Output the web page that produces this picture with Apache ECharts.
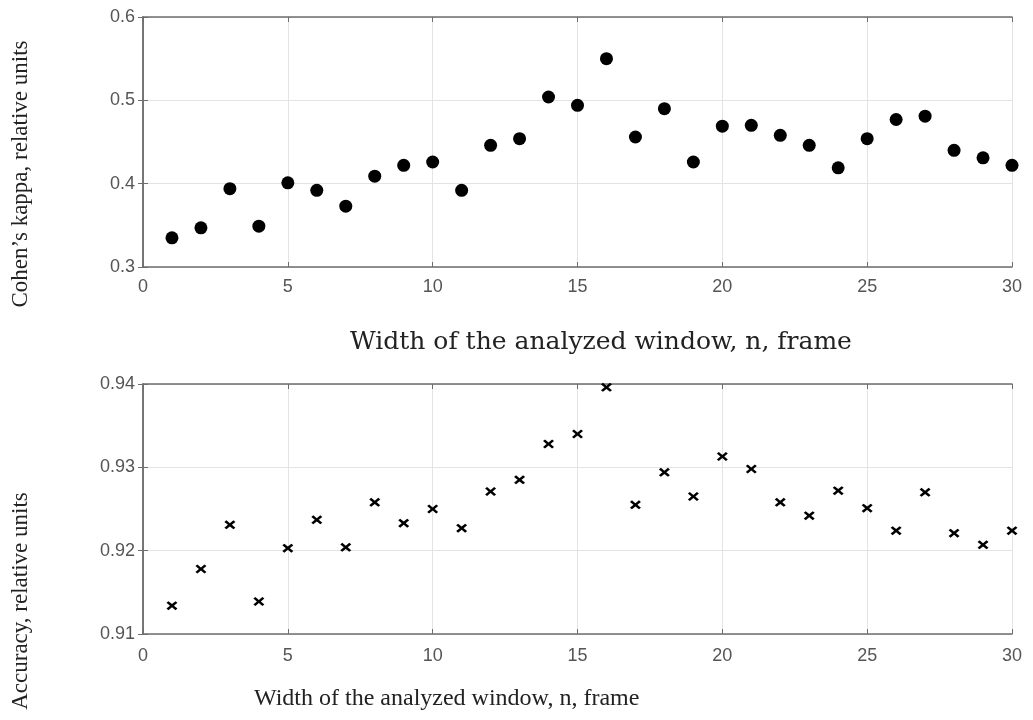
<!DOCTYPE html>
<html>
<head>
<meta charset="utf-8">
<script src="https://cdn.jsdelivr.net/npm/echarts@6/dist/echarts.min.js"></script>
<style>html,body{margin:0;padding:0;background:#fff;}#main{width:1033px;height:720px;}</style>
</head>
<body>
<div id="main"></div>
<script>
// Window width n (frames)
const windowWidth = [1,2,3,4,5,6,7,8,9,10,11,12,13,14,15,16,17,18,19,20,21,22,23,24,25,26,27,28,29,30];
// Cohen's kappa values
const kappa = [0.335,0.347,0.394,0.349,0.401,0.392,0.373,0.409,0.422,0.426,0.392,0.446,0.454,0.504,0.494,0.550,0.456,0.490,0.426,0.469,0.470,0.458,0.446,0.419,0.454,0.477,0.481,0.440,0.431,0.422];
// Accuracy values
const accuracy = [0.9134,0.9178,0.9231,0.9139,0.9203,0.9237,0.9204,0.9258,0.9233,0.9250,0.9227,0.9271,0.9285,0.9328,0.9340,0.9396,0.9255,0.9294,0.9265,0.9313,0.9298,0.9258,0.9242,0.9272,0.9251,0.9224,0.9270,0.9221,0.9207,0.9224];
// Labels
const xTitle = 'Width of the analyzed window, n, frame';
const kappaTitle = 'Cohen\u2019s kappa, relative units';
const accTitle = 'Accuracy, relative units';

const chart = echarts.init(document.getElementById('main'), null, {renderer: 'canvas'});
const axisGray = '#6e6e6e';
const labelStyle = {color: '#555', fontFamily: 'Liberation Sans, Arial, sans-serif', fontSize: 18};

function xAxisPair(gi) {
  return [
    {type: 'value', gridIndex: gi, min: 0, max: 30, interval: 5, position: 'bottom',
     axisLine: {show: true, lineStyle: {color: axisGray, width: 1.5}},
     axisTick: {show: true, inside: true, length: 5, lineStyle: {color: axisGray}},
     axisLabel: Object.assign({margin: gi === 0 ? 11 : 13}, labelStyle),
     splitLine: {show: true, lineStyle: {color: '#e3e3e3', width: 1}}},
    {type: 'value', gridIndex: gi, min: 0, max: 30, interval: 5, position: 'top',
     axisLine: {show: true, lineStyle: {color: axisGray, width: 1.5}},
     axisTick: {show: true, inside: true, length: 5, lineStyle: {color: axisGray}},
     axisLabel: {show: false}, splitLine: {show: false}}
  ];
}
function yAxisPair(gi, min, max, interval, digits) {
  return [
    {type: 'value', gridIndex: gi, min: min, max: max, interval: interval, position: 'left',
     axisLine: {show: true, lineStyle: {color: axisGray, width: 1.5}},
     axisTick: {show: true, inside: true, length: 5, lineStyle: {color: axisGray}},
     axisLabel: Object.assign({margin: 8, formatter: v => v.toFixed(digits)}, labelStyle),
     splitLine: {show: true, lineStyle: {color: '#e3e3e3', width: 1}}},
    {type: 'value', gridIndex: gi, min: min, max: max, interval: interval, position: 'right',
     axisLine: {show: true, lineStyle: {color: axisGray, width: 1.5}},
     axisTick: {show: true, inside: true, length: 5, lineStyle: {color: axisGray}},
     axisLabel: {show: false}, splitLine: {show: false}}
  ];
}

const crossPath = 'path://M0,1.8L1.8,0L5,3.2L8.2,0L10,1.8L6.8,5L10,8.2L8.2,10L5,6.8L1.8,10L0,8.2L3.2,5Z';

chart.setOption({
  animation: false,
  backgroundColor: '#fff',
  grid: [
    {left: 143, right: 21, top: 17, height: 250},
    {left: 143, right: 21, top: 384, height: 250}
  ],
  xAxis: [].concat(xAxisPair(0), xAxisPair(1)),
  yAxis: [].concat(yAxisPair(0, 0.3, 0.6, 0.1, 1), yAxisPair(1, 0.91, 0.94, 0.01, 2)),
  series: [
    {type: 'scatter', xAxisIndex: 0, yAxisIndex: 0, symbol: 'circle', symbolSize: 13,
     itemStyle: {color: '#000', opacity: 1}, clip: false,
     data: windowWidth.map((n, i) => [n, kappa[i]])},
    {type: 'scatter', xAxisIndex: 2, yAxisIndex: 2, symbol: crossPath, symbolSize: [11, 9],
     itemStyle: {color: '#000', opacity: 1}, clip: false,
     data: windowWidth.map((n, i) => [n, accuracy[i]])}
  ],
  graphic: [
    {type: 'text', left: 350, top: 330, style: {text: xTitle, fill: '#222', font: '25px "DejaVu Serif", serif'}},
    {type: 'text', left: 254, top: 687, style: {text: xTitle, fill: '#222', font: '24px "Liberation Serif", "Times New Roman", serif'}},
    {type: 'text', x: 21, y: 174, rotation: Math.PI / 2,
     style: {text: kappaTitle, fill: '#222', font: '23px "Liberation Serif", "Times New Roman", serif', align: 'center', verticalAlign: 'middle'}},
    {type: 'text', x: 21, y: 601, rotation: Math.PI / 2,
     style: {text: accTitle, fill: '#222', font: '23px "Liberation Serif", "Times New Roman", serif', align: 'center', verticalAlign: 'middle'}}
  ]
});
</script>
</body>
</html>
